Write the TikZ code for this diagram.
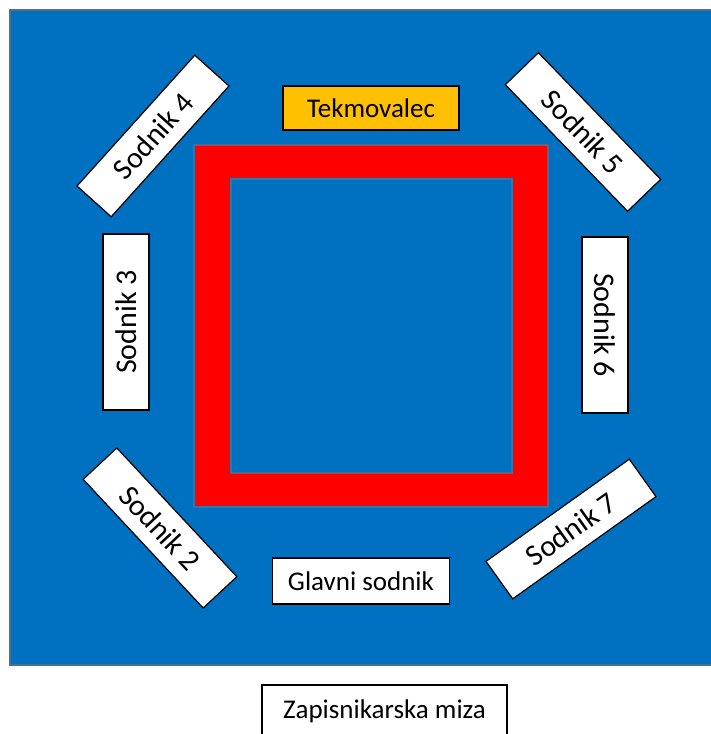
\documentclass[tikz,border=0pt]{standalone}
\usepackage{fontspec}
\setmainfont{Carlito}
\definecolor{mat}{HTML}{0070C0}
\definecolor{edge}{HTML}{41719C}
\definecolor{gold}{HTML}{FFC000}
\tikzset{
  judge/.style={draw=black, line width=1.2pt, fill=white, minimum width=176pt, minimum height=46pt, inner sep=0pt, font=\fontsize{30}{36}\selectfont},
  label box/.style={draw=black, line width=1.2pt, fill=white, inner sep=0pt, font=\fontsize{27}{32}\selectfont}
}
\begin{document}
\begin{tikzpicture}[x=1pt,y=-1pt]
\useasboundingbox (0,0) rectangle (710,734);
\fill[white] (0,0) rectangle (710,734);
% mat
\draw[edge, line width=2pt, fill=mat] (10,10) rectangle (714,665);
% red square frame
\draw[edge, line width=1.5pt, fill=red, even odd rule] (194,145) rectangle (548,507) (231,179) rectangle (512,473);
% competitor
\node[label box, fill=gold, minimum width=176pt, minimum height=44pt] (tek) at (371,108) {Tekmovalec};
% judges
\node[judge, rotate=48] (s4) at (153,136) {Sodnik 4};
\node[judge, rotate=-46] (s5) at (583,132) {Sodnik 5};
\node[judge, rotate=90] (s3) at (126,322) {Sodnik 3};
\node[judge, rotate=-90] (s6) at (605,325) {Sodnik 6};
\node[judge, rotate=-47] (s2) at (160,528) {Sodnik 2};
\node[judge, rotate=35.5] (s7) at (571,529) {Sodnik 7};
\node[label box, minimum width=177pt, minimum height=46pt] (gs) at (361,581) {Glavni sodnik};
\node[label box, minimum width=245pt, minimum height=52pt] (zm) at (384.5,711) {Zapisnikarska miza};
\end{tikzpicture}
\end{document}
